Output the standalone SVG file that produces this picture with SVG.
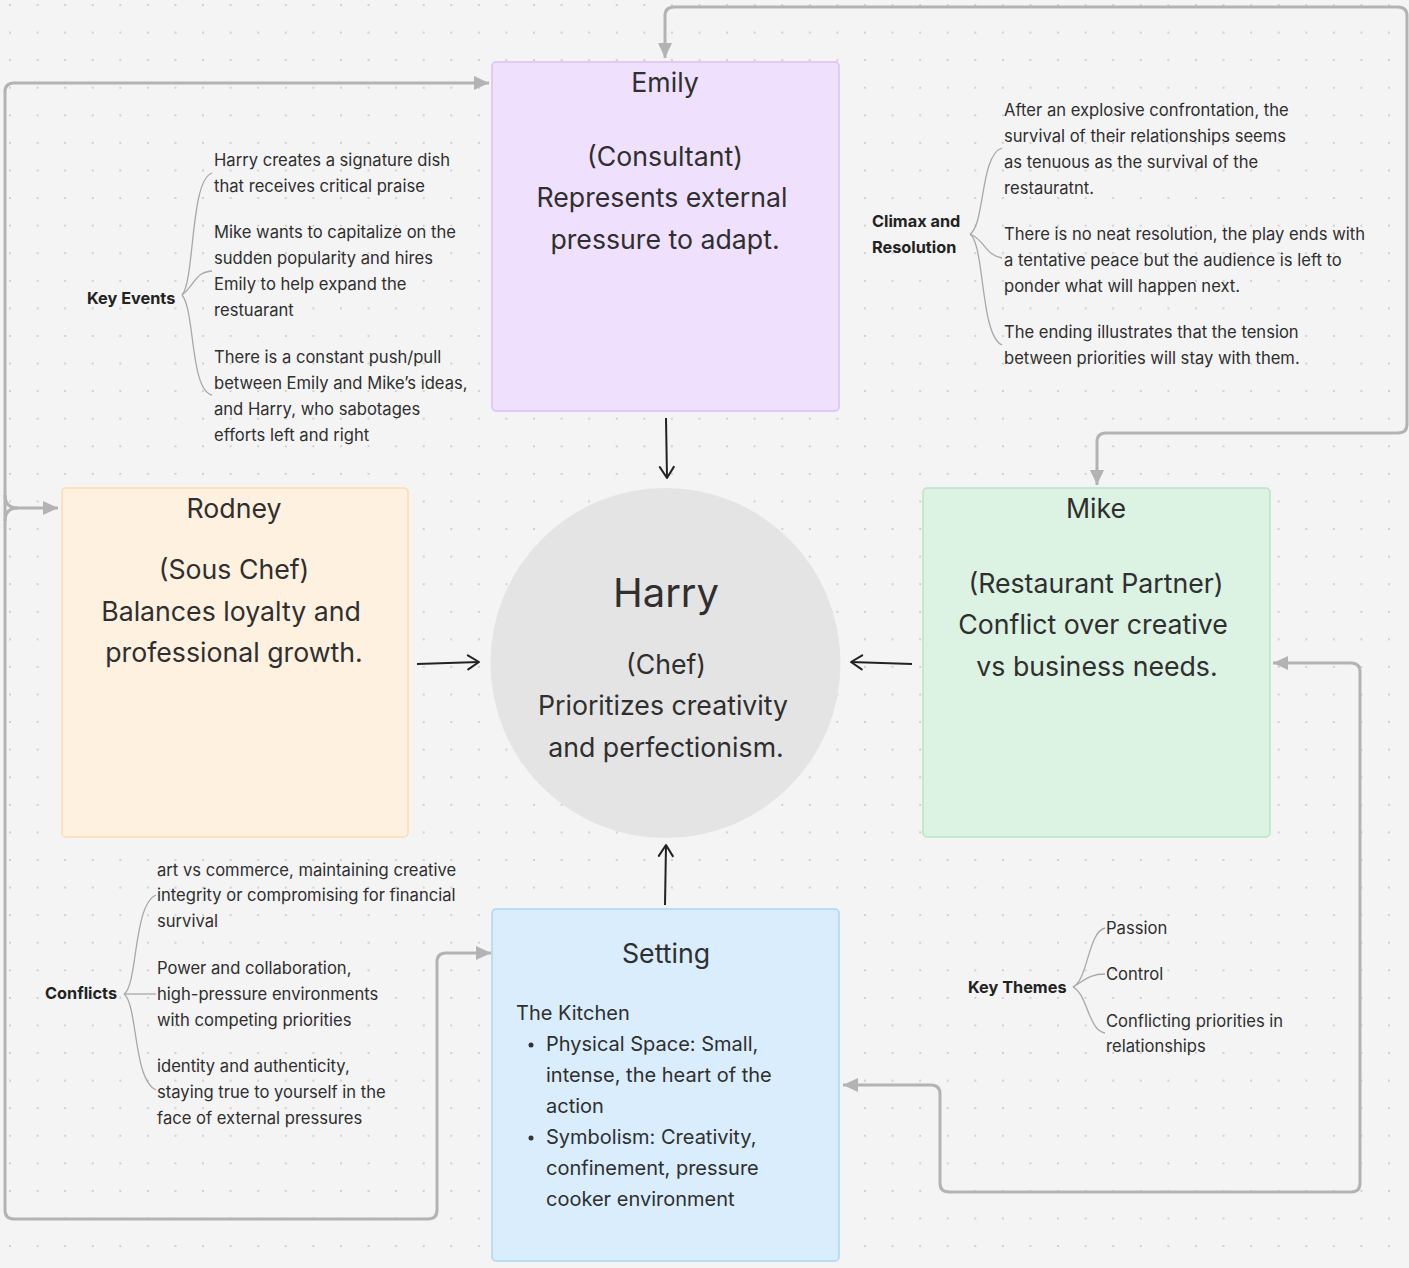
<svg xmlns="http://www.w3.org/2000/svg" width="1409" height="1268" viewBox="0 0 1409 1268">
<defs>
<pattern id="dots" patternUnits="userSpaceOnUse" x="-3.79" y="-8.79" width="27.58" height="27.58">
<circle cx="13.79" cy="13.79" r="1" fill="#c4c4c4"/>
</pattern>
<marker id="gray-arrow" markerUnits="userSpaceOnUse" markerWidth="16" markerHeight="16" refX="15" refY="8" orient="auto-start-reverse" viewBox="0 0 16 16">
<path d="M0,1 L15,8 L0,15 Z" fill="#b3b3b3"/>
</marker>
<marker id="black-arrow" markerUnits="userSpaceOnUse" markerWidth="16" markerHeight="18" refX="13" refY="9" orient="auto" viewBox="0 0 16 18">
<path d="M2,2 L13,9 L2,16" fill="none" stroke="#222" stroke-width="2" stroke-linecap="round" stroke-linejoin="round"/>
</marker>
</defs>
<style>
text { font-family: Inter, "Noto Sans", "Liberation Sans", sans-serif; fill: #2f2f2f; }
.big { font-size: 26.7px; text-anchor: middle; }
.title { font-size: 26.7px; text-anchor: middle; }
.small { font-size: 16.6px; }
.label { font-size: 16.3px; font-weight: bold; fill: #222; }
.setting { font-size: 20px; }
.gray { fill: none; stroke: #b3b3b3; stroke-width: 3; marker-start: url(#gray-arrow); marker-end: url(#gray-arrow); }
.black { fill: none; stroke: #222; stroke-width: 2; marker-end: url(#black-arrow); }
.brace { fill: none; stroke: #a8a8a8; stroke-width: 1.3; }
</style>
<rect width="1409" height="1268" fill="#f4f4f4"/>
<rect width="1409" height="1268" fill="url(#dots)"/>

<g id="connectors">
<path class="gray" d="M 489 83 H 14 Q 5 83 5 92 V 1210 Q 5 1219 14 1219 H 428 Q 437 1219 437 1210 V 962 Q 437 953 446 953 H 491"/>
<path fill="none" stroke="#b3b3b3" stroke-width="3" d="M 5 495 Q 5 508 18 508 H 58" marker-end="url(#gray-arrow)"/>
<path fill="none" stroke="#b3b3b3" stroke-width="3" d="M 5 521 Q 5 508 18 508"/>
<path class="gray" d="M 665 58 V 16 Q 665 7 674 7 H 1398 Q 1407 7 1407 16 V 424 Q 1407 433 1398 433 H 1106 Q 1097 433 1097 442 V 485"/>
<path class="gray" d="M 1273 663 H 1351 Q 1360 663 1360 672 V 1183 Q 1360 1192 1351 1192 H 949 Q 940 1192 940 1183 V 1094 Q 940 1085 931 1085 H 843"/>
<path class="black" d="M 666 418 L 667 478"/>
<path class="black" d="M 417 664 L 479 662"/>
<path class="black" d="M 912 664 L 851 662"/>
<path class="black" d="M 665 905 L 666 845"/>
</g>

<g id="emily">
<rect x="492" y="62" width="347" height="349" rx="4" fill="#efe1fd" stroke="#dcbdf8" stroke-width="1.5"/>
<text class="title" x="665" y="92">Emily</text>
<text class="big" x="665" y="166">(Consultant)</text>
<text class="big" x="662" y="207">Represents external</text>
<text class="big" x="665" y="249">pressure to adapt.</text>
</g>

<g id="rodney">
<rect x="62" y="488" width="346" height="349" rx="4" fill="#fff1e0" stroke="#fcdcb0" stroke-width="1.5"/>
<text class="title" x="234" y="518">Rodney</text>
<text class="big" x="234" y="579">(Sous Chef)</text>
<text class="big" x="231" y="621">Balances loyalty and</text>
<text class="big" x="234" y="662">professional growth.</text>
</g>

<g id="mike">
<rect x="923" y="488" width="347" height="349" rx="4" fill="#dcf2e3" stroke="#b8e4c7" stroke-width="1.5"/>
<text class="title" x="1096" y="518">Mike</text>
<text class="big" x="1096" y="593">(Restaurant Partner)</text>
<text class="big" x="1093" y="634">Conflict over creative</text>
<text class="big" x="1097" y="676">vs business needs.</text>
</g>

<g id="harry">
<circle cx="665.5" cy="663" r="175" fill="#e4e4e4"/>
<text x="666" y="607" style="font-size:40px;text-anchor:middle">Harry</text>
<text class="big" x="666" y="674">(Chef)</text>
<text class="big" x="663" y="715">Prioritizes creativity</text>
<text class="big" x="666" y="757">and perfectionism.</text>
</g>

<g id="setting">
<rect x="492" y="909" width="347" height="352" rx="4" fill="#d9edfc" stroke="#acd5f7" stroke-width="1.5"/>
<text class="title" x="666" y="963">Setting</text>
<text class="setting" x="516" y="1020">The Kitchen</text>
<circle cx="531" cy="1045" r="2.5" fill="#333"/>
<text class="setting" x="546" y="1051">Physical Space: Small,</text>
<text class="setting" x="546" y="1082">intense, the heart of the</text>
<text class="setting" x="546" y="1113">action</text>
<circle cx="531" cy="1138" r="2.5" fill="#333"/>
<text class="setting" x="546" y="1144">Symbolism: Creativity,</text>
<text class="setting" x="546" y="1175">confinement, pressure</text>
<text class="setting" x="546" y="1206">cooker environment</text>
</g>

<g id="key-events">
<path class="brace" d="M 182 295 C 195 280, 190 180, 212 173"/>
<path class="brace" d="M 182 295 C 195 285, 195 272, 212 271"/>
<path class="brace" d="M 182 295 C 195 310, 190 390, 212 395"/>
<text class="label" x="87" y="304">Key Events</text>
<text class="small" x="214" y="166">Harry creates a signature dish</text>
<text class="small" x="214" y="192">that receives critical praise</text>
<text class="small" x="214" y="238">Mike wants to capitalize on the</text>
<text class="small" x="214" y="264">sudden popularity and hires</text>
<text class="small" x="214" y="290">Emily to help expand the</text>
<text class="small" x="214" y="316">restuarant</text>
<text class="small" x="214" y="363">There is a constant push/pull</text>
<text class="small" x="214" y="389">between Emily and Mike’s ideas,</text>
<text class="small" x="214" y="415">and Harry, who sabotages</text>
<text class="small" x="214" y="441">efforts left and right</text>
</g>

<g id="climax">
<path class="brace" d="M 970 234 C 985 225, 980 155, 1002 148"/>
<path class="brace" d="M 970 234 C 985 240, 985 255, 1002 258"/>
<path class="brace" d="M 970 234 C 985 245, 980 335, 1002 345"/>
<text class="label" x="872" y="227">Climax and</text>
<text class="label" x="872" y="253">Resolution</text>
<text class="small" x="1004" y="116">After an explosive confrontation, the</text>
<text class="small" x="1004" y="142">survival of their relationships seems</text>
<text class="small" x="1004" y="168">as tenuous as the survival of the</text>
<text class="small" x="1004" y="194">restauratnt.</text>
<text class="small" x="1004" y="240">There is no neat resolution, the play ends with</text>
<text class="small" x="1004" y="266">a tentative peace but the audience is left to</text>
<text class="small" x="1004" y="292">ponder what will happen next.</text>
<text class="small" x="1004" y="338">The ending illustrates that the tension</text>
<text class="small" x="1004" y="364">between priorities will stay with them.</text>
</g>

<g id="conflicts">
<path class="brace" d="M 124 994 C 138 985, 133 905, 156 895"/>
<path class="brace" d="M 124 994 L 156 994"/>
<path class="brace" d="M 124 994 C 138 1005, 133 1080, 156 1090"/>
<text class="label" x="45" y="999">Conflicts</text>
<text class="small" x="157" y="876">art vs commerce, maintaining creative</text>
<text class="small" x="157" y="901">integrity or compromising for financial</text>
<text class="small" x="157" y="927">survival</text>
<text class="small" x="157" y="974">Power and collaboration,</text>
<text class="small" x="157" y="1000">high-pressure environments</text>
<text class="small" x="157" y="1026">with competing priorities</text>
<text class="small" x="157" y="1072">identity and authenticity,</text>
<text class="small" x="157" y="1098">staying true to yourself in the</text>
<text class="small" x="157" y="1124">face of external pressures</text>
</g>

<g id="key-themes">
<path class="brace" d="M 1073 987 C 1088 980, 1088 932, 1105 928"/>
<path class="brace" d="M 1073 987 C 1085 980, 1090 974, 1105 974"/>
<path class="brace" d="M 1073 987 C 1088 995, 1088 1030, 1105 1033"/>
<text class="label" x="968" y="993">Key Themes</text>
<text class="small" x="1106" y="934">Passion</text>
<text class="small" x="1106" y="980">Control</text>
<text class="small" x="1106" y="1027">Conflicting priorities in</text>
<text class="small" x="1106" y="1052">relationships</text>
</g>
</svg>
